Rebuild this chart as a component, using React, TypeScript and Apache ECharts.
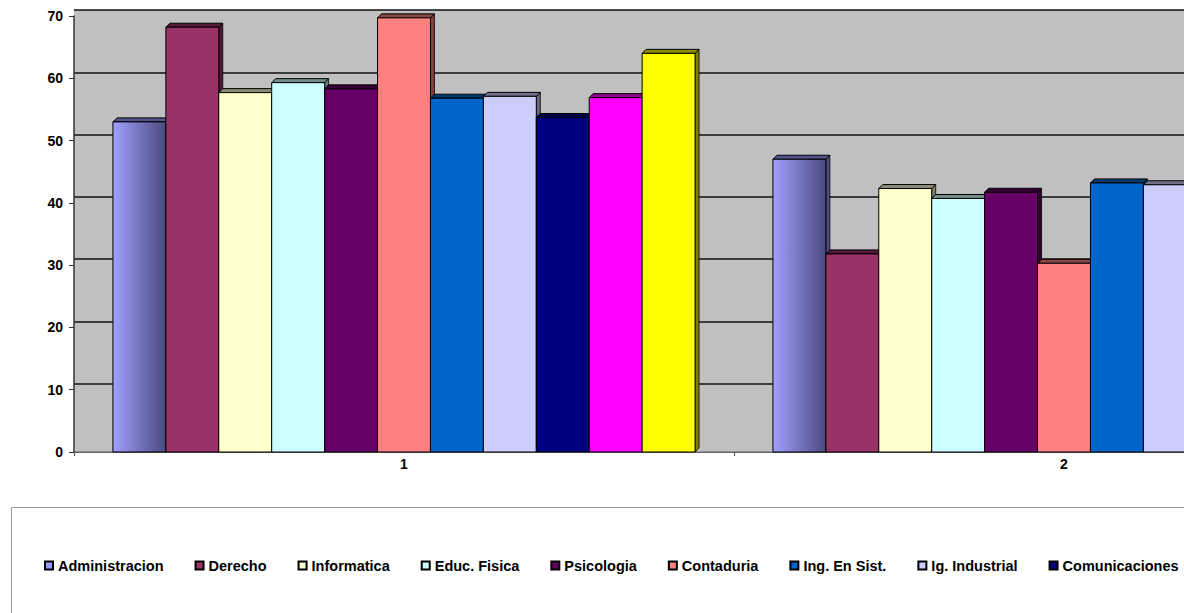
import React, { useEffect, useRef } from "react";
import * as echarts from "echarts";

const categories = ["1", "2"];
const seriesNames = [
  "Administracion",
  "Derecho",
  "Informatica",
  "Educ. Fisica",
  "Psicologia",
  "Contaduria",
  "Ing. En Sist.",
  "Ig. Industrial",
  "Comunicaciones",
  "Serie 10",
  "Serie 11",
];
const legendNames = seriesNames.slice(0, 9);
const administracion = [53.0, 47.0];
const derecho = [68.2, 31.8];
const informatica = [57.7, 42.3];
const educFisica = [59.3, 40.7];
const psicologia = [58.3, 41.7];
const contaduria = [69.7, 30.3];
const ingSist = [56.8, 43.2];
const igIndustrial = [57.1, 42.9];
const comunicaciones = [53.7, 46.3];
const serie10 = [56.9, 43.1];
const serie11 = [64.0, 36.0];
const seriesValues = [
  administracion,
  derecho,
  informatica,
  educFisica,
  psicologia,
  contaduria,
  ingSist,
  igIndustrial,
  comunicaciones,
  serie10,
  serie11,
];
const colors = [
  "#9999FF",
  "#993366",
  "#FFFFCC",
  "#CCFFFF",
  "#660066",
  "#FF8080",
  "#0066CC",
  "#CCCCFF",
  "#000080",
  "#FF00FF",
  "#FFFF00",
];
const yTicks = { min: 0, max: 70, interval: 10 };

const FONT = "'Liberation Sans', Arial, sans-serif";

function shade(hex: string, f: number): string {
  const n = parseInt(hex.slice(1), 16);
  const r = Math.round(((n >> 16) & 255) * f);
  const g = Math.round(((n >> 8) & 255) * f);
  const b = Math.round((n & 255) * f);
  return `rgb(${r},${g},${b})`;
}

export default function App() {
  const ref = useRef<HTMLDivElement>(null);
  useEffect(() => {
    if (!ref.current) return;
    const chart = echarts.init(ref.current, null, { renderer: "svg" });
    const N = seriesNames.length;
    const GAP = 0.118;
    const series: any[] = seriesNames.map((name, idx) => ({
      name,
      type: "custom",
      xAxisIndex: 0,
      yAxisIndex: 0,
      z: 3,
      encode: { x: 0, y: 1 },
      itemStyle: { color: colors[idx], borderColor: "#000", borderWidth: 1 },
      data: seriesValues[idx].map((v, i) => [i, v]),
      renderItem: (params: any, api: any) => {
        const cat = api.value(0);
        const val = api.value(1);
        const top = api.coord([cat, val]);
        const base = api.coord([cat, 0]);
        const band = api.size([1, 0])[0];
        const groupW = band * (1 - GAP);
        const bw = groupW / N;
        const x0 = base[0] - groupW / 2 + idx * bw;
        const y0 = top[1];
        const y1 = base[1];
        const dx = 4;
        const dy = -4;
        const fill =
          idx === 0
            ? new echarts.graphic.LinearGradient(0, 0, 1, 0, [
                { offset: 0, color: "#A0A0FF" },
                { offset: 1, color: "#4A4A80" },
              ])
            : colors[idx];
        return {
          type: "group",
          children: [
            {
              type: "polygon",
              shape: {
                points: [
                  [x0 + bw, y0],
                  [x0 + bw + dx, y0 + dy],
                  [x0 + bw + dx, y1 + dy],
                  [x0 + bw, y1],
                ],
              },
              style: { fill: shade(colors[idx], 0.5), stroke: "#000", lineWidth: 0.8 },
            },
            {
              type: "polygon",
              shape: {
                points: [
                  [x0, y0],
                  [x0 + dx, y0 + dy],
                  [x0 + bw + dx, y0 + dy],
                  [x0 + bw, y0],
                ],
              },
              style: { fill: shade(colors[idx], 0.55), stroke: "#000", lineWidth: 1 },
            },
            {
              type: "rect",
              shape: { x: x0, y: y0, width: bw, height: y1 - y0 },
              style: { fill, stroke: "#000", lineWidth: 1 },
            },
          ],
        };
      },
    }));

    chart.setOption({
      animation: false,
      grid: [
        { left: 74, top: 16, width: 1320, height: 436, containLabel: false },
        {
          left: 74,
          top: 10,
          width: 1320,
          height: 436,
          show: true,
          backgroundColor: "#C0C0C0",
          borderWidth: 0,
          z: 0,
        },
      ],
      xAxis: [
        {
          type: "category",
          gridIndex: 0,
          data: categories,
          axisLine: { show: true, lineStyle: { color: "#333", width: 1.5 } },
          axisTick: { show: true, length: 4, interval: 0, lineStyle: { color: "#555" } },
          axisLabel: {
            margin: 5,
            color: "#000",
            fontWeight: "bold",
            fontSize: 14,
            fontFamily: FONT,
          },
          splitLine: { show: false },
        },
        {
          type: "category",
          gridIndex: 1,
          data: categories,
          show: false,
        },
      ],
      yAxis: [
        {
          type: "value",
          gridIndex: 0,
          min: yTicks.min,
          max: yTicks.max,
          interval: yTicks.interval,
          axisLine: { show: true, lineStyle: { color: "#333", width: 1.5 } },
          axisTick: { show: true, length: 5, lineStyle: { color: "#333" } },
          axisLabel: {
            margin: 11,
            color: "#000",
            fontWeight: "bold",
            fontSize: 14,
            fontFamily: FONT,
          },
          splitLine: { show: false },
        },
        {
          type: "value",
          gridIndex: 1,
          min: yTicks.min,
          max: yTicks.max,
          interval: yTicks.interval,
          axisLine: { show: false },
          axisTick: { show: false },
          axisLabel: { show: false },
          splitLine: {
            show: true,
            lineStyle: {
              color: ["#C0C0C0", "#111", "#111", "#111", "#111", "#111", "#111", "#111"],
              width: 1.6,
            },
          },
        },
      ],
      legend: {
        data: legendNames,
        left: 39,
        top: 553,
        orient: "horizontal",
        icon: "rect",
        itemWidth: 8,
        itemHeight: 8,
        itemGap: 31,
        selectedMode: false,
        textStyle: {
          color: "#000",
          fontWeight: "bold",
          fontSize: 14.5,
          fontFamily: FONT,
        },
      },
      graphic: [
        {
          type: "rect",
          z: 1,
          shape: { x: 75, y: 445, width: 1319, height: 6.5 },
          style: { fill: "#C0C0C0" },
        },
        {
          type: "rect",
          shape: { x: 11.5, y: 507.5, width: 1400, height: 200 },
          style: { fill: "none", stroke: "#9A9A9A", lineWidth: 1 },
        },
      ],
      series,
    });
    return () => chart.dispose();
  }, []);
  return (
    <div
      style={{
        position: "fixed",
        left: 0,
        top: 0,
        width: 1184,
        height: 613,
        overflow: "hidden",
        background: "#fff",
      }}
    >
      <div ref={ref} style={{ width: 1400, height: 613 }} />
    </div>
  );
}
